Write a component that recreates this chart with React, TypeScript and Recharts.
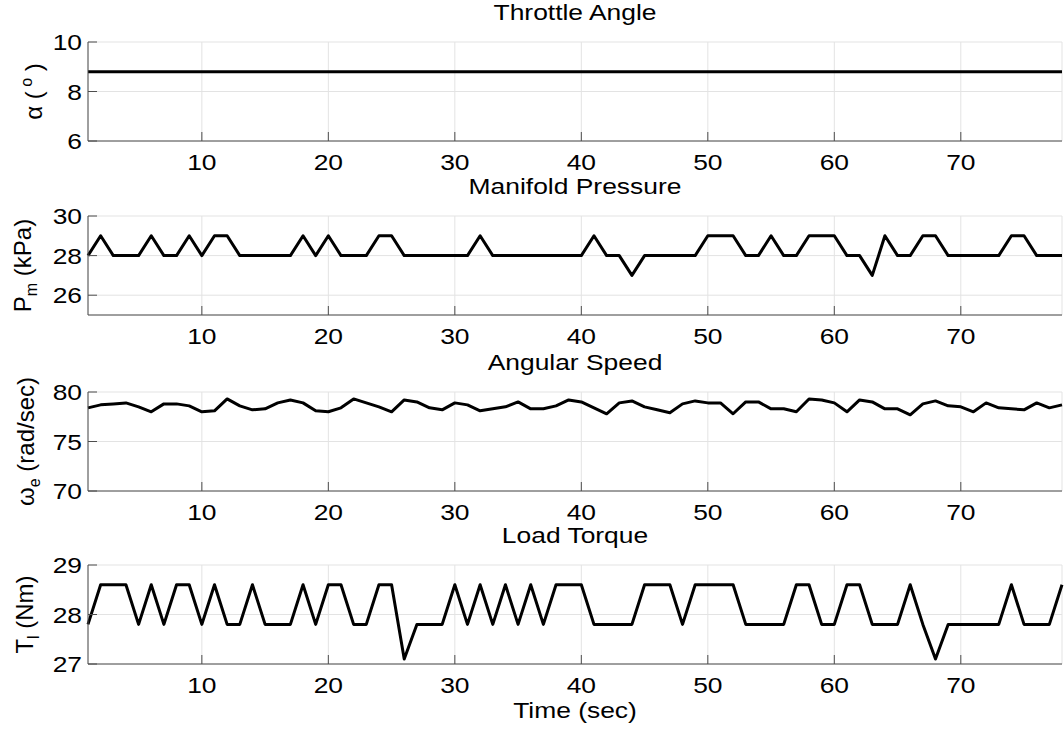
import React from "react";
import { LineChart, Line, XAxis, YAxis, CartesianGrid } from "recharts";

const FONT = "'Liberation Sans', Arial, sans-serif";
const AXIS = "#4d4d4d";
const GRID = "#e3e3e3";
const STRETCH = 1.2; // the reference type is wider than Arial

const time = [
  1, 2, 3, 4, 5, 6, 7, 8, 9, 10, 11, 12, 13, 14, 15, 16, 17, 18, 19, 20,
  21, 22, 23, 24, 25, 26, 27, 28, 29, 30, 31, 32, 33, 34, 35, 36, 37, 38, 39, 40,
  41, 42, 43, 44, 45, 46, 47, 48, 49, 50, 51, 52, 53, 54, 55, 56, 57, 58, 59, 60,
  61, 62, 63, 64, 65, 66, 67, 68, 69, 70, 71, 72, 73, 74, 75, 76, 77, 78,
];

const throttle = [
  8.8, 8.8, 8.8, 8.8, 8.8, 8.8, 8.8, 8.8, 8.8, 8.8, 8.8, 8.8, 8.8, 8.8, 8.8, 8.8, 8.8, 8.8, 8.8, 8.8,
  8.8, 8.8, 8.8, 8.8, 8.8, 8.8, 8.8, 8.8, 8.8, 8.8, 8.8, 8.8, 8.8, 8.8, 8.8, 8.8, 8.8, 8.8, 8.8, 8.8,
  8.8, 8.8, 8.8, 8.8, 8.8, 8.8, 8.8, 8.8, 8.8, 8.8, 8.8, 8.8, 8.8, 8.8, 8.8, 8.8, 8.8, 8.8, 8.8, 8.8,
  8.8, 8.8, 8.8, 8.8, 8.8, 8.8, 8.8, 8.8, 8.8, 8.8, 8.8, 8.8, 8.8, 8.8, 8.8, 8.8, 8.8, 8.8,
];

const manifold = [
  28, 29, 28, 28, 28, 29, 28, 28, 29, 28,
  29, 29, 28, 28, 28, 28, 28, 29, 28, 29,
  28, 28, 28, 29, 29, 28, 28, 28, 28, 28,
  28, 29, 28, 28, 28, 28, 28, 28, 28, 28,
  29, 28, 28, 27, 28, 28, 28, 28, 28, 29,
  29, 29, 28, 28, 29, 28, 28, 29, 29, 29,
  28, 28, 27, 29, 28, 28, 29, 29, 28, 28,
  28, 28, 28, 29, 29, 28, 28, 28,
];

const speed = [
  78.4, 78.7, 78.8, 78.9, 78.5, 78.0, 78.8, 78.8, 78.6, 78.0,
  78.1, 79.3, 78.6, 78.2, 78.3, 78.9, 79.2, 78.9, 78.1, 78.0,
  78.4, 79.3, 78.9, 78.5, 78.0, 79.2, 79.0, 78.4, 78.2, 78.9,
  78.7, 78.1, 78.3, 78.5, 79.0, 78.3, 78.3, 78.6, 79.2, 79.0,
  78.4, 77.8, 78.9, 79.1, 78.5, 78.2, 77.9, 78.8, 79.1, 78.9,
  78.9, 77.8, 79.0, 79.0, 78.3, 78.3, 78.0, 79.3, 79.2, 78.9,
  78.0, 79.2, 79.0, 78.3, 78.3, 77.7, 78.8, 79.1, 78.6, 78.5,
  78.0, 78.9, 78.4, 78.3, 78.2, 78.9, 78.4, 78.7,
];

const torque = [
  27.8, 28.6, 28.6, 28.6, 27.8, 28.6, 27.8, 28.6, 28.6, 27.8,
  28.6, 27.8, 27.8, 28.6, 27.8, 27.8, 27.8, 28.6, 27.8, 28.6,
  28.6, 27.8, 27.8, 28.6, 28.6, 27.1, 27.8, 27.8, 27.8, 28.6,
  27.8, 28.6, 27.8, 28.6, 27.8, 28.6, 27.8, 28.6, 28.6, 28.6,
  27.8, 27.8, 27.8, 27.8, 28.6, 28.6, 28.6, 27.8, 28.6, 28.6,
  28.6, 28.6, 27.8, 27.8, 27.8, 27.8, 28.6, 28.6, 27.8, 27.8,
  28.6, 28.6, 27.8, 27.8, 27.8, 28.6, 27.8, 27.1, 27.8, 27.8,
  27.8, 27.8, 27.8, 28.6, 27.8, 27.8, 27.8, 28.6,
];

const xTicks = [10, 20, 30, 40, 50, 60, 70];

const XTick = (props: any) => {
  const { x, y, payload } = props;
  return (
    <g>
      <line x1={x} x2={x} y1={y} y2={y - 9} stroke={AXIS} />
      <text
        transform={`translate(${x},${y + 29}) scale(${STRETCH},1)`}
        textAnchor="middle"
        fontSize={22}
        fontFamily={FONT}
        fill="#000"
      >
        {payload.value}
      </text>
    </g>
  );
};

const YTick = (props: any) => {
  const { x, y, payload } = props;
  return (
    <g>
      <line x1={x} x2={x + 9} y1={y} y2={y} stroke={AXIS} />
      <text
        transform={`translate(${x - 6},${y + 8}) scale(${STRETCH},1)`}
        textAnchor="end"
        fontSize={22}
        fontFamily={FONT}
        fill="#000"
      >
        {payload.value}
      </text>
    </g>
  );
};

// rotated y label with optional sub/superscript
const YLabel = (props: any) => {
  const { viewBox, bx, main, sub, sup, unit } = props;
  const cy = viewBox ? viewBox.y + viewBox.height / 2 : 90;
  return (
    <text
      transform={`translate(${bx},${cy}) rotate(-90)`}
      textAnchor="middle"
      fontSize={24}
      fontFamily={FONT}
      fill="#000"
    >
      {main}
      {sub && (
        <tspan fontSize={16} dy={6}>
          {sub}
        </tspan>
      )}
      {sub && <tspan dy={-6}> {unit}</tspan>}
      {sup && <tspan> (</tspan>}
      {sup && (
        <tspan fontSize={16} dy={-10}>
          {" " + sup}
        </tspan>
      )}
      {sup && <tspan dy={10}> )</tspan>}
    </text>
  );
};

const titleStyle: React.CSSProperties = {
  position: "absolute",
  left: 88,
  width: 974,
  textAlign: "center",
  fontFamily: FONT,
  fontSize: 22,
  lineHeight: "26px",
  color: "#000",
  transform: `scaleX(${STRETCH})`,
  transformOrigin: "center",
};

type PanelProps = {
  top: number;
  title: string;
  values: number[];
  domain: [number, number];
  yTicks: number[];
  label: React.ReactElement;
};

function Panel({ top, title, values, domain, yTicks, label }: PanelProps) {
  const data = time.map((t, i) => ({ t, v: values[i] }));
  return (
    <>
      <div style={{ ...titleStyle, top: top + 30 - 41.6 }}>{title}</div>
      <div style={{ position: "absolute", left: 0, top }}>
        <LineChart width={1064} height={174} data={data} margin={{ top: 30, right: 2, bottom: 5, left: 28 }}>
          <CartesianGrid stroke={GRID} strokeWidth={1} />
          <XAxis
            dataKey="t"
            type="number"
            domain={[1, 78]}
            ticks={xTicks}
            height={40}
            tickSize={0}
            tickMargin={0}
            tickLine={false}
            axisLine={{ stroke: AXIS }}
            tick={<XTick />}
          />
          <YAxis
            type="number"
            domain={domain}
            ticks={yTicks}
            width={60}
            tickSize={0}
            tickMargin={0}
            tickLine={false}
            axisLine={{ stroke: AXIS }}
            tick={<YTick />}
            label={label}
          />
          <Line
            type="linear"
            dataKey="v"
            stroke="#000"
            strokeWidth={3}
            dot={false}
            isAnimationActive={false}
            strokeLinejoin="round"
          />
        </LineChart>
      </div>
    </>
  );
}

export default function App() {
  return (
    <div style={{ position: "absolute", left: 0, top: 0, width: 1064, height: 732, background: "#fff" }}>
      <Panel
        top={12}
        title="Throttle Angle"
        values={throttle}
        domain={[6, 10]}
        yTicks={[6, 8, 10]}
        label={<YLabel bx={42} main="α" sup="o" />}
      />
      <Panel
        top={186}
        title="Manifold Pressure"
        values={manifold}
        domain={[25, 30]}
        yTicks={[26, 28, 30]}
        label={<YLabel bx={31} main="P" sub="m" unit="(kPa)" />}
      />
      <Panel
        top={362}
        title="Angular Speed"
        values={speed}
        domain={[70, 80]}
        yTicks={[70, 75, 80]}
        label={<YLabel bx={34} main="ω" sub="e" unit="(rad/sec)" />}
      />
      <Panel
        top={535}
        title="Load Torque"
        values={torque}
        domain={[27, 29]}
        yTicks={[27, 28, 29]}
        label={<YLabel bx={33} main="T" sub="l" unit="(Nm)" />}
      />
      <div style={{ ...titleStyle, top: 698 }}>Time (sec)</div>
    </div>
  );
}
